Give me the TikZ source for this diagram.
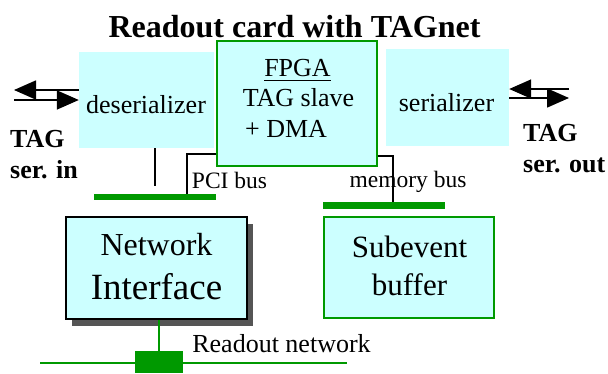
\documentclass[tikz,border=0pt]{standalone}
\usepackage{fontspec}
\setmainfont{Liberation Serif}
\usetikzlibrary{arrows.meta}
\definecolor{cy}{HTML}{CCFFFF}
\definecolor{gr}{HTML}{009900}
\definecolor{sh}{HTML}{555555}
\newcommand{\fsz}[1]{\fontsize{#1}{#1}\selectfont}
\begin{document}
\begin{tikzpicture}[x=1pt,y=-1pt,
  blk/.style={fill=cy, inner sep=0pt},
  txt/.style={anchor=base, inner sep=0pt, font=\fsz{#1}},
  btxt/.style={anchor=base west, inner sep=0pt, font=\fsz{26}\bfseries},
  bar/.style={fill=gr, inner sep=0pt},
  wire/.style={line width=1.5pt, black},
  gwire/.style={line width=1.5pt, gr},
  dblarrow/.style={line width=1.6pt, -{Triangle[length=22pt,width=19pt]}}]
\useasboundingbox (0,0) rectangle (608,373);
% title
\node[txt=32, font=\fsz{32}\bfseries] (title) at (294.5,37) {Readout card with TAGnet};
% boxes
\node[blk, minimum width=135pt, minimum height=96pt] (des) at (146.5,100) {};
\node[blk, minimum width=123pt, minimum height=97pt] (ser) at (447.5,97.5) {};
\node[blk, draw=gr, line width=1.5pt, minimum width=160pt, minimum height=125pt] (fpga) at (297,103.5) {};
\node[fill=sh, inner sep=0pt, minimum width=181pt, minimum height=102pt] (nishadow) at (162.5,274.5) {};
\node[blk, draw=black, line width=1.5pt, minimum width=181pt, minimum height=102pt] (ni) at (156.5,268) {};
\node[blk, draw=gr, line width=1.5pt, minimum width=170pt, minimum height=101pt] (sub) at (409,267.5) {};
% bars
\node[bar, minimum width=122pt, minimum height=6.5pt] (pcibar) at (155,197) {};
\node[bar, minimum width=122pt, minimum height=7pt] (membar) at (384,205.5) {};
\node[bar, minimum width=48pt, minimum height=22pt] (netbox) at (159,362) {};
% texts
\node[txt=26] (tdes) at (146,113) {deserializer};
\node[txt=26] (tser) at (446.5,111) {serializer};
\node[txt=26] (tfpga) at (297.5,76) {FPGA};
\draw[line width=1.4pt] ([yshift=-4.5pt]tfpga.base west) -- ([yshift=-4.5pt]tfpga.base east);
\node[txt=26] (tslave) at (298.5,106) {TAG slave};
\node[txt=26] (tdma) at (286,137) {+ DMA};
\node[txt=23.5] (tpci) at (229.5,188) {PCI bus};
\node[txt=23.5] (tmem) at (408,187) {memory bus};
\node[txt=32] (tnet) at (156.5,255) {Network};
\node[txt=37] (tif) at (156.5,299) {Interface};
\node[txt=31] (tsub) at (409.5,257) {Subevent};
\node[txt=31] (tbuf) at (409.5,295) {buffer};
\node[txt=26] (tro) at (281.5,352) {Readout network};
\node[btxt] (tagin) at (10,147) {TAG};
\node[btxt] (serin) at (10,178) {ser. in};
\node[btxt] (tagout) at (523,141) {TAG};
\node[btxt] (serout) at (523,172) {ser. out};
% connector coordinates
\coordinate (dx) at (155,186);
\coordinate (px) at (187,154);
\coordinate (mx) at (393,156);
\coordinate (nl) at (40,363);
\coordinate (nr) at (347,363);
% connectors
\draw[wire] (dx |- des.south) -- (dx);
\draw[wire] (px -| fpga.west) -- (px) -- (px |- pcibar.north);
\draw[wire] (mx -| fpga.east) -- (mx) -- (mx |- membar.north);
\draw[gwire] (netbox.north |- ni.south) -- (netbox.north);
\draw[gwire] (nl) -- (nr);
% arrows
\coordinate (la) at (14,90);
\coordinate (lb) at (14,100);
\coordinate (ra) at (569,89);
\coordinate (rb) at (569,98);
\draw[dblarrow] (la -| des.west) -- (la);
\draw[dblarrow] (lb) -- (lb -| des.west);
\draw[dblarrow] (ra) -- (ra -| ser.east);
\draw[dblarrow] (rb -| ser.east) -- (rb);
\end{tikzpicture}
\end{document}
